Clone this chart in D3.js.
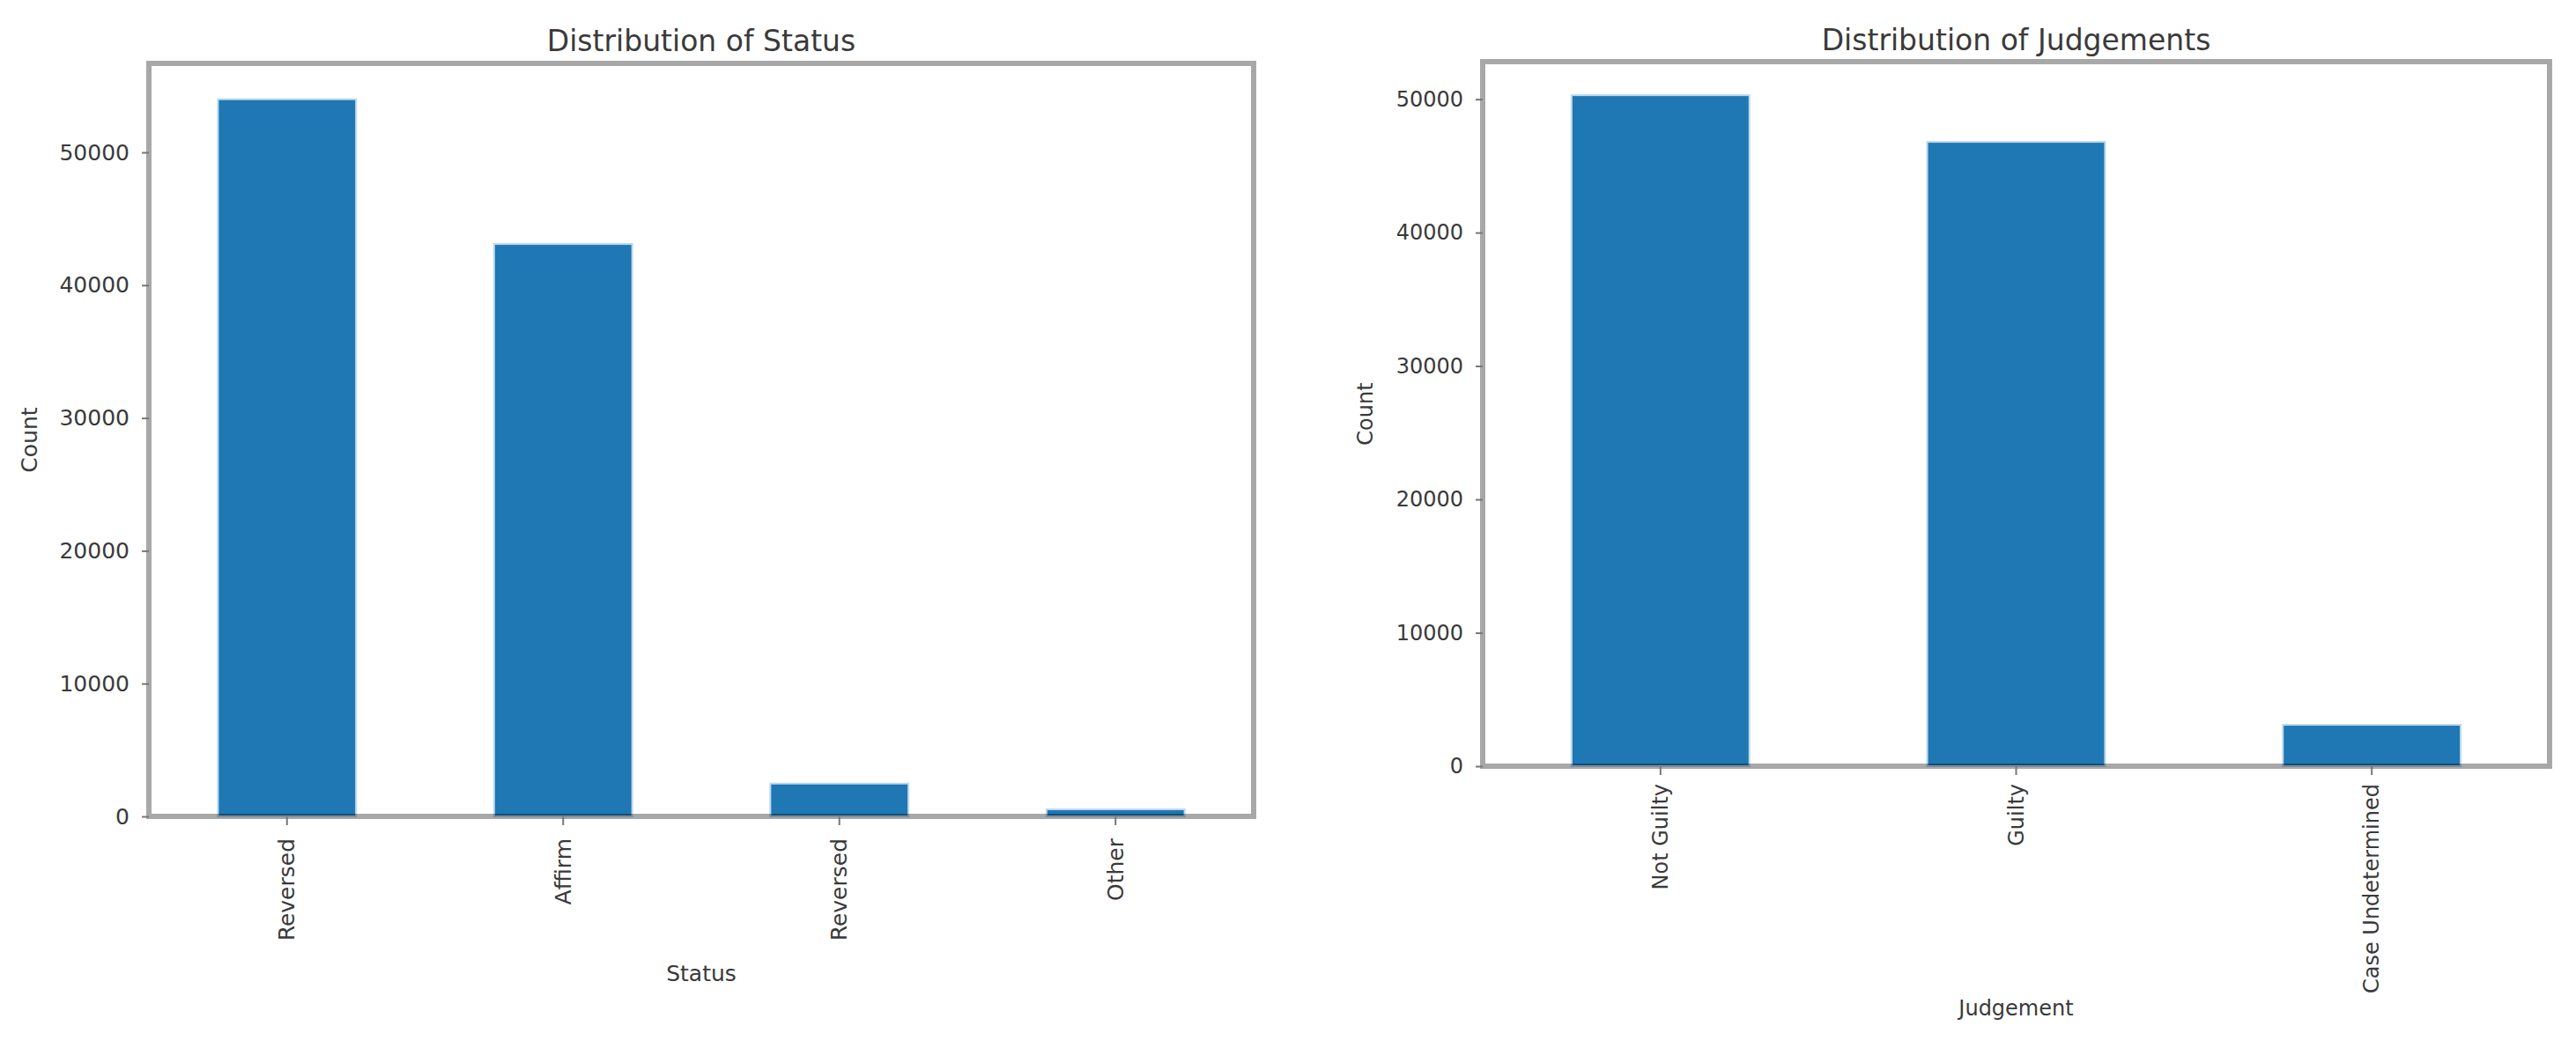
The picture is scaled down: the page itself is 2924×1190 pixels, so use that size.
<!DOCTYPE html>
<html>
<head>
<meta charset="utf-8">
<script src="https://cdn.jsdelivr.net/npm/d3@7"></script>
<style>
  body { margin: 0; background: #fff; }
  text { font-family: "DejaVu Sans", sans-serif; fill: #3a3a3a; }
  .axis path { display: none; }
  .axis line { stroke: #777; stroke-width: 2; }
</style>
</head>
<body>
<svg id="fig" width="2924" height="1190"></svg>
<script>
// values
var statusCats = ["Reversed", "Affirm", "Reversed", "Other"];
var statusCounts = [54000, 43100, 2470, 530];

var judgeCats = ["Not Guilty", "Guilty", "Case Undetermined"];
var judgeCounts = [50300, 46800, 3100];

var yTicks = [0, 10000, 20000, 30000, 40000, 50000];

var svg = d3.select("#fig");

function barPanel(opts) {
    var box = opts.box,
        n = opts.cats.length,
        fs = opts.fontSize + "px";

    var x = d3.scaleBand()
        .domain(d3.range(n))
        .range([box.left, box.right])
        .paddingInner(0.5)
        .paddingOuter(0.25);

    var y = d3.scaleLinear()
        .domain([0, d3.max(opts.values) * 1.05])
        .range([box.bottom, box.top]);

    var g = svg.append("g");

    g.selectAll("rect.bar")
        .data(opts.values)
        .enter().append("rect")
        .attr("class", "bar")
        .attr("x", function(d, i) { return x(i); })
        .attr("width", x.bandwidth())
        .attr("y", function(d) { return y(d); })
        .attr("height", function(d) { return box.bottom - y(d); })
        .attr("fill", "#1f77b4")
        .attr("stroke", "#bcd8ee")
        .attr("stroke-width", 2);

    // frame, see-through so it darkens the bar feet like the original
    g.append("rect")
        .attr("x", box.left)
        .attr("y", box.top)
        .attr("width", box.right - box.left)
        .attr("height", box.bottom - box.top)
        .attr("fill", "none")
        .attr("stroke", "#000")
        .attr("stroke-opacity", 0.34)
        .attr("stroke-width", 6);

    var yAxis = g.append("g")
        .attr("class", "axis")
        .attr("transform", "translate(" + box.left + ",0)")
        .call(d3.axisLeft(y).tickValues(yTicks).tickFormat(d3.format("d")).tickSize(8).tickPadding(14));
    yAxis.selectAll("text").style("font-size", fs);

    var xAxis = g.append("g")
        .attr("class", "axis")
        .attr("transform", "translate(0," + box.bottom + ")")
        .call(d3.axisBottom(x).tickFormat(function(i) { return opts.cats[i]; }).tickSize(10).tickPadding(0));
    xAxis.selectAll("text")
        .style("font-size", fs)
        .attr("text-anchor", "end")
        .attr("dominant-baseline", "central")
        .attr("dy", null)
        .attr("y", 0)
        .attr("transform", "translate(0," + opts.labelPad + ") rotate(-90)");

    g.append("text")
        .attr("x", (box.left + box.right) / 2)
        .attr("y", opts.titleY)
        .attr("text-anchor", "middle")
        .style("font-size", "33px")
        .text(opts.title);

    g.append("text")
        .attr("transform", "translate(" + opts.ylabX + "," + (box.top + box.bottom) / 2 + ") rotate(-90)")
        .attr("text-anchor", "middle")
        .attr("dominant-baseline", "central")
        .style("font-size", fs)
        .text("Count");

    g.append("text")
        .attr("x", (box.left + box.right) / 2)
        .attr("y", opts.xlabY)
        .attr("text-anchor", "middle")
        .attr("dominant-baseline", "central")
        .style("font-size", fs)
        .text(opts.xlabel);
}

barPanel({
    box: { left: 169, right: 1423, top: 72, bottom: 927 },
    cats: statusCats,
    values: statusCounts,
    title: "Distribution of Status",
    xlabel: "Status",
    fontSize: 25,
    titleY: 58,
    labelPad: 25,
    ylabX: 33,
    xlabY: 1105
});

barPanel({
    box: { left: 1683, right: 2894, top: 70, bottom: 870 },
    cats: judgeCats,
    values: judgeCounts,
    title: "Distribution of Judgements",
    xlabel: "Judgement",
    fontSize: 24,
    titleY: 57,
    labelPad: 20,
    ylabX: 1550,
    xlabY: 1145
});
</script>
</body>
</html>
